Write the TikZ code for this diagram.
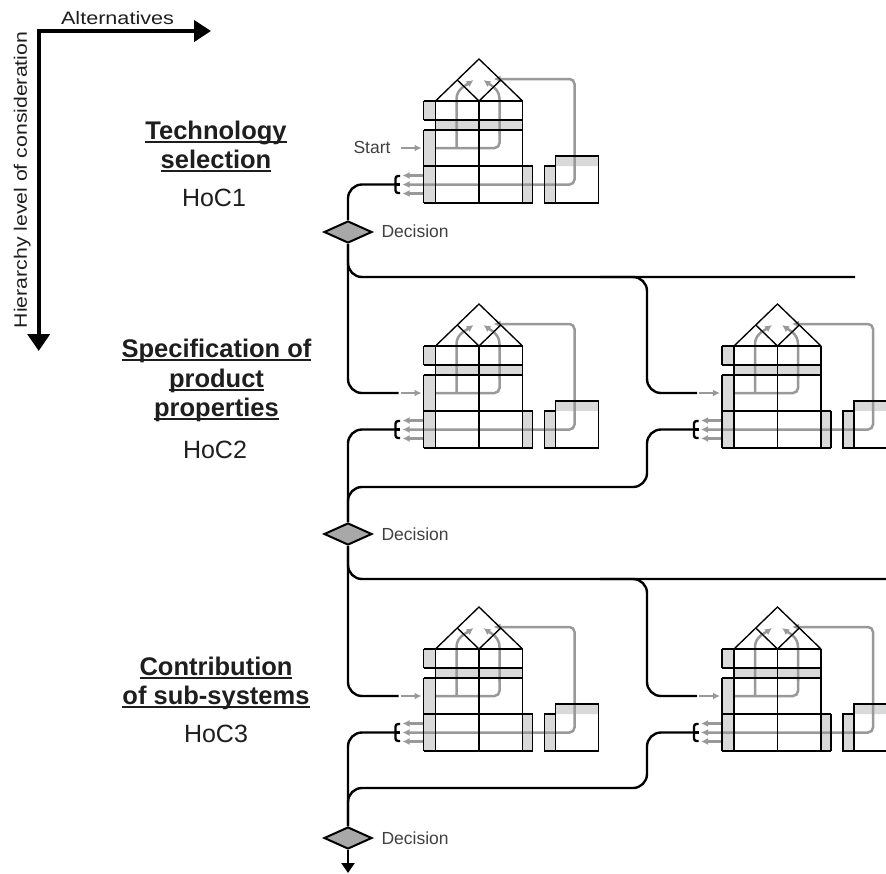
\documentclass[tikz,border=0pt]{standalone}
\usepackage{fontspec}
\setmainfont{Liberation Sans}
\usetikzlibrary{arrows.meta,shapes.geometric}
\definecolor{arrgray}{HTML}{999999}
\definecolor{fillgray}{HTML}{D9D9D9}
\definecolor{diagray}{HTML}{A8A8A8}
\definecolor{txt}{HTML}{1E1E1E}
\newsavebox\ulsave
\newcommand{\ulbox}[1]{\sbox\ulsave{#1}\rlap{\rule[-3.8pt]{\wd\ulsave}{1.4pt}}\usebox\ulsave}
\tikzset{
  hline/.style={line width=1.35pt, draw=black},
  gline/.style={line width=2.5pt, draw=arrgray},
  garrow/.style={gline, -{Latex[length=7pt,width=7pt]}},
  conn/.style={line width=2.4pt, draw=black, rounded corners=14pt},
  decision/.style={diamond, draw=black, line width=2pt, fill=diagray, minimum width=48pt, minimum height=22pt, inner sep=0pt},
  title/.style={anchor=base, text=txt, font=\fontsize{25.5}{29}\selectfont\bfseries},
  hoc/.style={anchor=base, text=txt, font=\fontsize{25}{29}\selectfont},
  small/.style={text=txt!85, font=\fontsize{17.5}{20}\selectfont},
  qfd/.pic={
    \fill[fillgray] (0,0) rectangle (12,19) (12,19) rectangle (99,29) (0,29) rectangle (12,102)
      (99,65) rectangle (109,102) (132,55) rectangle (175,65) (121,65) rectangle (132,102);
    % gray arrows
    \draw[garrow] (-23,47) -- (-2,47);
    \draw[gline, rounded corners=5pt] (12,47) -- (76,47) -- (76,30);
    \draw[garrow] (76,32) -- (76,-2) .. controls (76,-12) and (67,-16) .. (60,-21);
    \draw[garrow] (33,47) -- (33,-2) .. controls (33,-12) and (43,-16) .. (50,-21);
    \draw[gline, rounded corners=5pt, {Latex[length=7pt,width=7pt]}-{Latex[length=7pt,width=7pt]}]
      (70,-22) -- (151,-22) -- (151,83.5) -- (-21,83.5);
    \draw[garrow] (0,74.5) -- (-21,74.5);
    \draw[garrow] (0,92.5) -- (-21,92.5);
    % black structure
    \draw[hline] (12,0) -- (55.5,-42) -- (99,0);
    \draw[hline] (33.75,-21) -- (55.5,0) -- (77.25,-21);
    \draw[hline] (0,0) -- (99,0) (0,19) -- (99,19) (0,29) -- (99,29) (0,65) -- (109,65) (0,102) -- (109,102);
    \draw[hline] (0,0) -- (0,19) (0,29) -- (0,102) (12,0) -- (12,102) (55.5,0) -- (55.5,102)
      (99,0) -- (99,102) (109,65) -- (109,102);
    \draw[hline] (132,55) rectangle (175,102) (121,65) rectangle (132,102);
    % bracket
    \draw[line width=2.3pt, rounded corners=2.5pt] (-23.5,75) -- (-28,75) -- (-28,92) -- (-23.5,92);
    \draw[line width=2.3pt] (-28,83.5) -- (-23.5,83.5);
    \coordinate (-br) at (-28,83.5);
    \coordinate (-in) at (-25,47);
  }
}
\begin{document}
\begin{tikzpicture}[x=1pt,y=-1pt]
\useasboundingbox (0,0) rectangle (886,873);
\clip (0,0) rectangle (886,873);

% axes
\coordinate (corner) at (38.7,31);
\coordinate (vend) at (38.7,351);
\coordinate (hend) at (211,31);
\draw[line width=4pt, line join=miter, {Triangle[length=17pt,width=22pt]}-{Triangle[length=17pt,width=21pt]}]
  (vend) -- (corner) -- (hend);
\node[anchor=base, text=txt, font=\fontsize{18}{20}\selectfont] (alt) at (117.5,24) {\scalebox{1.2}[1]{Alternatives}};
\node[anchor=base, rotate=90, text=txt, font=\fontsize{18}{20}\selectfont] (hier) at (27,180) {\scalebox{1.18}[1]{Hierarchy level of consideration}};

% titles
\node[title] (t1a) at (216,139) {\ulbox{Technology}};
\node[title] (t1b) at (216,168) {\ulbox{selection}};
\node[hoc] (hoc1) at (214,206) {HoC1};
\node[title] (t2a) at (216.5,357) {\ulbox{Specification of}};
\node[title] (t2b) at (216.5,387) {\ulbox{product}};
\node[title] (t2c) at (216.5,416) {\ulbox{properties}};
\node[hoc] (hoc2) at (215,458) {HoC2};
\node[title] (t3a) at (216,675) {\ulbox{Contribution}};
\node[title] (t3b) at (216,704) {\ulbox{of sub-systems}};
\node[hoc] (hoc3) at (216,742) {HoC3};

% houses
\pic (h11) at (423.5,101) {qfd};
\pic (h21) at (423.5,346) {qfd};
\pic (h22) at (722,346) {qfd};
\pic (h31) at (423.5,649) {qfd};
\pic (h32) at (722,649) {qfd};

\node[small, anchor=east] (start) at (394,147) {Start};

% decisions
\node[decision] (d1) at (348,232) {};
\node[decision] (d2) at (348,534) {};
\node[decision] (d3) at (348,838) {};
\node[small, anchor=west] (l1) at (378,231.5) {Decision};
\node[small, anchor=west] (l2) at (378,534.5) {Decision};
\node[small, anchor=west] (l3) at (378,838.5) {Decision};

% connector coordinates
\coordinate (e1) at (855,277);
\coordinate (j1) at (600,277);
\coordinate (k1) at (647,320);
\coordinate (k2) at (647,460);
\coordinate (m2) at (420,487);
\coordinate (e2) at (890,579);
\coordinate (j2) at (600,579);
\coordinate (k3) at (647,620);
\coordinate (k4) at (647,760);
\coordinate (m4) at (420,788);
\coordinate (bot) at (348,873);

% connectors
\draw[conn] (h11-br) -| (d1.north);
\draw[conn] (d1.south) |- (h21-in);
\draw[conn] (d1.south) |- (e1);
\draw[conn] (j1) -| (k1) |- (h22-in);
\draw[conn] (h21-br) -| (d2.north);
\draw[conn] (h22-br) -| (k2) |- (m2) -| (d2.north);
\draw[conn] (d2.south) |- (h31-in);
\draw[conn] (d2.south) |- (e2);
\draw[conn] (j2) -| (k3) |- (h32-in);
\draw[conn] (h31-br) -| (d3.north);
\draw[conn] (h32-br) -| (k4) |- (m4) -| (d3.north);
\draw[line width=2.4pt, -{Triangle[length=10pt,width=13pt]}] (d3.south) -- (bot);
\end{tikzpicture}
\end{document}
